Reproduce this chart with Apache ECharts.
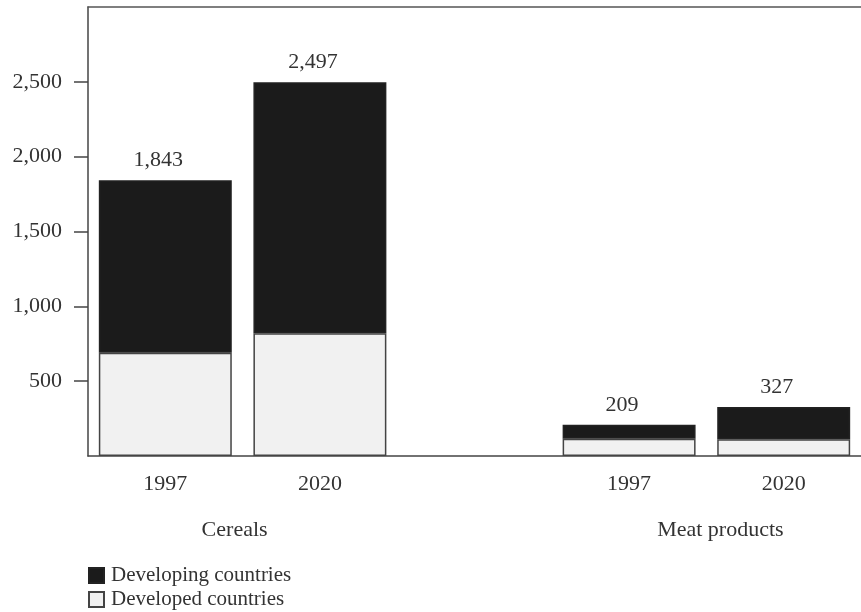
<!DOCTYPE html>
<html>
<head>
<meta charset="utf-8">
<script src="https://cdn.jsdelivr.net/npm/echarts@6/dist/echarts.min.js"></script>
<style>
  html, body { margin: 0; padding: 0; background: #fff; }
  #chart { width: 861px; height: 612px; }
</style>
</head>
<body>
<div id="chart"></div>
<script>
// Years per product group; the empty slot separates the two groups
const categories = ["1997", "2020", "", "1997", "2020"];
const groups = ["Cereals", "Meat products"];
const groupSlots = [[0, 1], [3, 4]];

// Demand, million metric tons
const developed = [690, 820, null, 116, 112];
const developing = [1153, 1677, null, 93, 215];

const yTicks = [500, 1000, 1500, 2000, 2500];

const FONT = "Liberation Serif";
const INK = "#333";
const SIZE = 22;

function fmt(v) {
  return Math.round(v).toString().replace(/\B(?=(\d{3})+(?!\d))/g, ",");
}

const chart = echarts.init(document.getElementById("chart"), null, { renderer: "canvas" });

const option = {
  backgroundColor: "#fff",
  animation: false,
  textStyle: { fontFamily: FONT, color: INK },
  grid: { left: 88, right: 0, top: 7, bottom: 156, containLabel: false },
  legend: {
    orient: "vertical",
    left: 88,
    top: 565,
    itemWidth: 15,
    itemHeight: 15,
    itemGap: 3,
    padding: 0,
    icon: "rect",
    textStyle: { fontFamily: FONT, fontSize: 21, lineHeight: 20, color: INK, padding: [0, 0, 0, 2] },
    data: ["Developing countries", "Developed countries"]
  },
  xAxis: [
    {
      type: "category",
      data: categories,
      position: "bottom",
      axisLine: { show: true, lineStyle: { color: "#444", width: 1.5 } },
      axisTick: { show: false },
      axisLabel: { fontFamily: FONT, fontSize: SIZE, color: INK, margin: 17 }
    },
    {
      type: "category",
      data: categories,
      position: "top",
      axisLine: { show: true, lineStyle: { color: "#555", width: 1.5 } },
      axisTick: { show: false },
      axisLabel: { show: false }
    }
  ],
  yAxis: {
    type: "value",
    min: 0,
    max: 3000,
    interval: 500,
    splitLine: { show: false },
    axisLine: { show: true, lineStyle: { color: "#444", width: 1.5 } },
    axisTick: {
      show: true,
      length: 14,
      customValues: yTicks,
      lineStyle: { color: "#444", width: 1.5 }
    },
    axisLabel: {
      fontFamily: FONT,
      fontSize: SIZE,
      color: INK,
      margin: 26,
      customValues: yTicks,
      formatter: (v) => fmt(v)
    }
  },
  series: [
    {
      name: "Developed countries",
      type: "bar",
      stack: "total",
      barWidth: "86%",
      data: developed,
      itemStyle: { color: "#f1f1f1", borderColor: "#444", borderWidth: 1.5 }
    },
    {
      name: "Developing countries",
      type: "bar",
      stack: "total",
      barWidth: "86%",
      data: developing,
      itemStyle: { color: "#1b1b1b", borderColor: "#222", borderWidth: 1.5 },
      label: {
        show: true,
        position: "top",
        distance: 9,
        offset: [-7, 0],
        fontFamily: FONT,
        fontSize: SIZE,
        color: INK,
        formatter: (p) => fmt(developed[p.dataIndex] + developing[p.dataIndex])
      }
    }
  ]
};

chart.setOption(option);

// Group names below each pair of years
const groupShift = [-8, 14];
const baseY = chart.convertToPixel({ yAxisIndex: 0 }, 0);
chart.setOption({
  graphic: groups.map((name, i) => {
    const a = chart.convertToPixel({ xAxisIndex: 0 }, groupSlots[i][0]);
    const b = chart.convertToPixel({ xAxisIndex: 0 }, groupSlots[i][1]);
    return {
      type: "text",
      x: (a + b) / 2 + groupShift[i],
      y: baseY + 74,
      style: {
        text: name,
        fontFamily: FONT,
        fontSize: SIZE,
        fill: INK,
        align: "center",
        verticalAlign: "middle"
      }
    };
  })
});
</script>
</body>
</html>
